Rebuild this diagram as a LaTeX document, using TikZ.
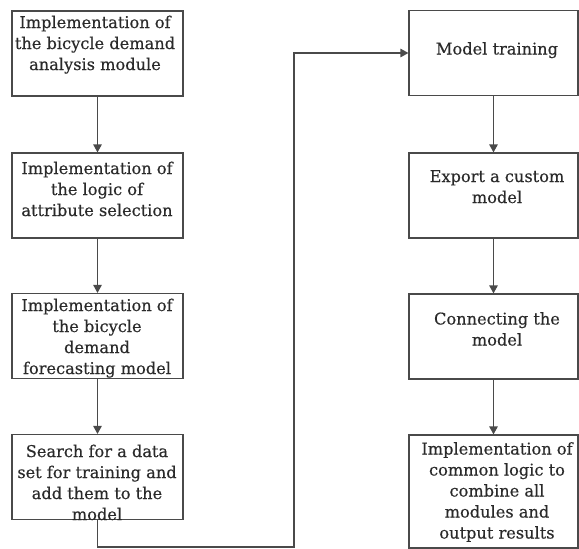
\documentclass[tikz,border=0pt]{standalone}
\usepackage{fontspec}
\setmainfont{DejaVu Serif}[FakeBold=0.4]
\usetikzlibrary{arrows.meta}
\definecolor{edge}{HTML}{4A4A4A}
\definecolor{ink}{HTML}{2A2A2A}
\tikzset{
  stepbox/.style={draw=edge, line width=1.2pt, rectangle, inner sep=0pt,
    minimum width=#1, minimum height=85pt},
  stepbox/.default=171pt,
  lbl/.style={anchor=north, inner sep=0pt, align=center, text=ink,
    font=\fontsize{16.2}{21}\selectfont},
  conn/.style={draw=edge, line width=1.2pt,
    -{Triangle[length=8pt,width=8.5pt]}}
}
\begin{document}
\begin{tikzpicture}[x=1pt,y=-1pt]
\useasboundingbox (0,0) rectangle (579,549);

% left column
\node[stepbox] (b1) at (97.5,53.5) {};
\node[stepbox] (b2) at (97.5,195.5) {};
\node[stepbox] (b3) at (97.5,336) {};
\node[stepbox] (b4) at (97.5,477) {};

% right column
\node[stepbox=169pt] (r1) at (493.5,53) {};
\node[stepbox=169pt] (r2) at (493.5,195.5) {};
\node[stepbox=169pt] (r3) at (493.5,336.5) {};
\node[stepbox=169pt, minimum height=113pt] (r4) at (493.5,491.5) {};

% texts
\node[lbl] (t1) at (95,15.5) {Implementation of\\the bicycle demand\\analysis module};
\node[lbl] (t2) at (97,161.5) {Implementation of\\the logic of\\attribute selection};
\node[lbl] (t3) at (97,298.5) {Implementation of\\the bicycle\\demand\\forecasting model};
\node[lbl] (t4) at (97,444.5) {Search for a data\\set for training and\\add them to the\\model};
\node[lbl] (t5) at (497,42) {Model training};
\node[lbl] (t6) at (497,170) {Export a custom\\model};
\node[lbl] (t7) at (497,312) {Connecting the\\model};
\node[lbl] (t8) at (497,442) {Implementation of\\common logic to\\combine all\\modules and\\output results};

% connectors
\draw[conn] (b1) -- (b2);
\draw[conn] (b2) -- (b3);
\draw[conn] (b3) -- (b4);
\coordinate (turn) at (294,547);
\draw[conn] (b4.south) |- (turn) |- (r1.west);
\draw[conn] (r1) -- (r2);
\draw[conn] (r2) -- (r3);
\draw[conn] (r3) -- (r4);
\end{tikzpicture}
\end{document}
